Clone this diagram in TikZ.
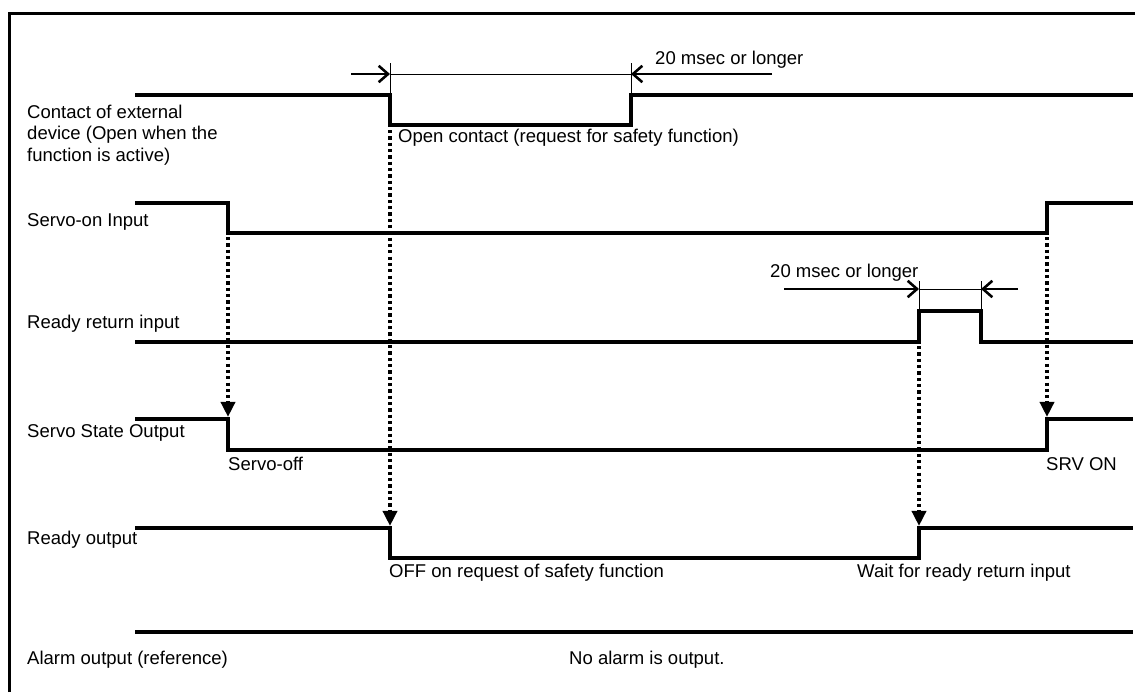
\documentclass[tikz,border=0pt]{standalone}
\usepackage{fontspec}
\setmainfont{Liberation Sans}
\usetikzlibrary{arrows.meta,calc,positioning}

\begin{document}
\begin{tikzpicture}[
    x=.03cm,y=-.03cm,
    font=\fontsize{15.8}{18.4}\selectfont,
    boxline/.style={line width=3.2pt},
    sig/.style={line width=2.9pt},
    dimline/.style={line width=.7pt},
    darr/.style={-{Straight Barb[length=8pt,width=14pt]},line width=2.2pt},
    trig/.style={-{Triangle[length=13pt,width=12pt]},line width=3.3pt,dash pattern=on 2.8pt off 2.6pt},
    lbl/.style={anchor=west,inner sep=0pt,align=left}
  ]
    \useasboundingbox (0,0) rectangle (1135,692);
    \draw[boxline] (9.5,692) -- (9.5,13.5) -- (1135,13.5);
    \draw[sig] (135,95) -- (390,95) coordinate (ctA) -- (390,125) -- (631,125) -- (631,95) coordinate (ctB) -- (1133,95);
    \draw[sig] (135,203) -- (228,203) -- (228,233) -- (1047,233) -- (1047,203) -- (1133,203);
    \draw[sig] (135,342) -- (919,342) -- (919,311) coordinate (rrA) -- (981,311) coordinate (rrB) -- (981,342) -- (1133,342);
    \draw[sig] (135,419) -- (228,419) -- (228,450) -- (1047,450) -- (1047,419) -- (1133,419);
    \draw[sig] (135,528) -- (390,528) -- (390,558) -- (919,558) -- (919,528) -- (1133,528);
    \draw[sig] (135,632) -- (1133,632);
    \coordinate (ctAt) at (390,63); \coordinate (ctBt) at (631,63);
    \coordinate (ctAm) at (390,74); \coordinate (ctBm) at (631,74);
    \coordinate (ctAs) at (351,74); \coordinate (ctBs) at (772,74);
    \draw[dimline] (ctA) -- (ctAt) (ctB) -- (ctBt) (ctAm) -- (ctBm);
    \draw[darr] (ctAs) -- (ctAm); \draw[darr] (ctBs) -- (ctBm);
    \coordinate (rrAt) at (919,281); \coordinate (rrBt) at (981,281);
    \coordinate (rrAm) at (919,289); \coordinate (rrBm) at (981,289);
    \coordinate (rrAs) at (784,289); \coordinate (rrBs) at (1018,289);
    \draw[dimline] (rrA) -- (rrAt) (rrB) -- (rrBt) (rrAm) -- (rrBm);
    \draw[darr] (rrAs) -- (rrAm); \draw[darr] (rrBs) -- (rrBm);
    \foreach \n/\x/\a/\b in {sOff/228/237/417,rOff/390/130/526,rOn/919/346/526,sOn/1047/237/417} {
      \coordinate (\n s) at (\x,\a); \coordinate (\n t) at (\x,\b);
      \draw[trig] (\n s) -- (\n t);}
    \node[lbl] (lContact) at (27,135) {Contact of external\\device (Open when the\\function is active)};
    \node[lbl] (lServoOn) at (27,222) {Servo-on Input};
    \node[lbl] (lReturn) at (27,324) {Ready return input};
    \node[lbl] (lState) at (27,433) {Servo State Output};
    \node[lbl] (lReady) at (27,540) {Ready output};
    \node[lbl] (lAlarm) at (27,660) {Alarm output (reference)};
    \node[lbl] (msTop) at (655,60) {20 msec or longer};
    \node[lbl] (msLow) at (770,273) {20 msec or longer};
    \node[lbl] (nOpen) at (398,138) {Open contact (request for safety function)};
    \node[lbl] (nSrvOff) at (228,464) {Servo-off};
    \node[lbl] (nSrvOn) at (1046,464) {SRV ON};
    \node[lbl] (nReq) at (389,573) {OFF on request of safety function};
    \node[lbl] (nWait) at (857,573) {Wait for ready return input};
    \node[lbl] (nAlarm) at (569,660) {No alarm is output.};
\end{tikzpicture}
\end{document}
